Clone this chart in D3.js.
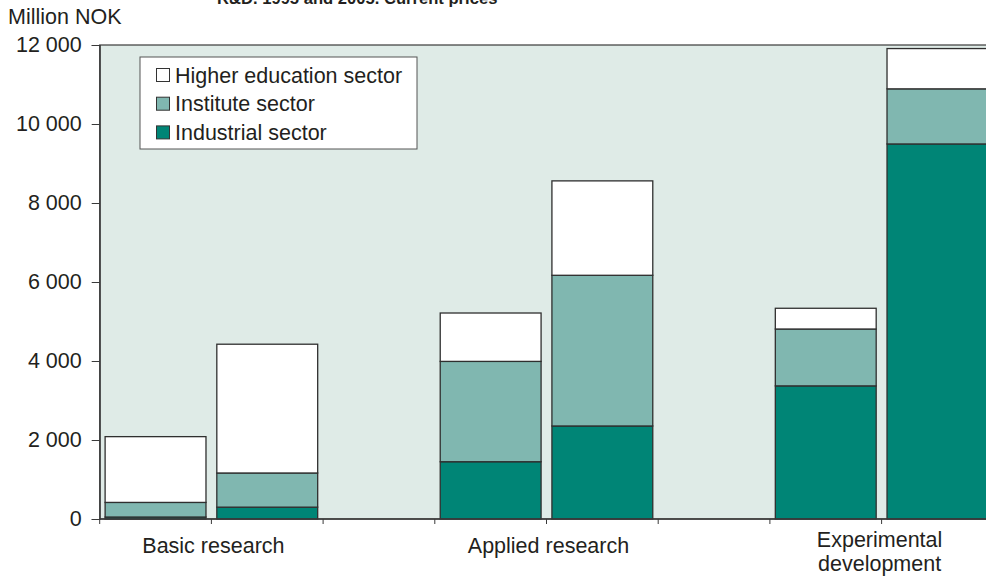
<!DOCTYPE html>
<html>
<head>
<meta charset="utf-8">
<script src="https://cdn.jsdelivr.net/npm/d3@7"></script>
<style>
  html, body { margin: 0; padding: 0; background: #ffffff; }
  svg { display: block; }
  text { font-family: "Liberation Sans", Arial, Helvetica, sans-serif; fill: #231f20; }
</style>
</head>
<body>
<svg id="chart" width="986" height="576"></svg>
<script>
// ---- Data ----
const title = "R&D. 1995 and 2005. Current prices";
const yAxisTitle = "Million NOK";
const categories = ["Basic research", "Applied research", "Experimental development"];
const years = ["1995", "2005"];
const seriesNames = ["Industrial sector", "Institute sector", "Higher education sector"];
// order of bars: Basic 1995, Basic 2005, Applied 1995, Applied 2005, Exp 1995, Exp 2005
const industrial = [50, 300, 1450, 2355, 3370, 9495];
const institute  = [370, 865, 2540, 3815, 1440, 1395];
const higherEd   = [1665, 3260, 1225, 2390, 525, 1020];
const yTicks = [0, 2000, 4000, 6000, 8000, 10000, 12000];

// ---- Layout ----
const W = 986, H = 576;
const plotLeft = 99.7, plotTop = 45, plotBottom = 519;
const FS = 21.5;
const colors = { "Industrial sector": "#008576", "Institute sector": "#80b7b0", "Higher education sector": "#ffffff" };

const svg = d3.select("#chart");

// slots: year bars per category + empty gap slot between categories
const slots = [];
categories.forEach((c, i) => {
  years.forEach(y => slots.push(c + "|" + y));
  if (i < categories.length - 1) slots.push("gap" + i);
});
const innerPad = 0.097;
const x = d3.scaleBand().domain(slots).range([plotLeft, 993.3]).paddingInner(innerPad).paddingOuter(innerPad / 2);
const step = x.step();
const slotStart = k => x(k) - step * innerPad / 2;

const y = d3.scaleLinear().domain([0, 12000]).range([plotBottom, plotTop]);

// plot background
svg.append("rect")
  .attr("x", plotLeft).attr("y", plotTop)
  .attr("width", W - plotLeft + 20).attr("height", plotBottom - plotTop)
  .attr("fill", "#dfebe7").attr("stroke", "#3a3a3a").attr("stroke-width", 1.2);

// title (top part lies above the picture, as in the reference)
svg.append("text").attr("x", 217).attr("y", 4)
  .attr("font-size", 16.6).attr("font-weight", "bold").text(title);

svg.append("text").attr("x", 8).attr("y", 24).attr("font-size", FS).text(yAxisTitle);

// stacked data
const rows = [];
categories.forEach((c, ci) => years.forEach((yr, yi) => {
  const i = ci * years.length + yi;
  rows.push({ key: c + "|" + yr, "Industrial sector": industrial[i], "Institute sector": institute[i], "Higher education sector": higherEd[i] });
}));
const stacked = d3.stack().keys(seriesNames)(rows);

svg.append("g").selectAll("g").data(stacked).join("g")
  .attr("fill", d => colors[d.key])
  .selectAll("rect").data(d => d).join("rect")
  .attr("x", d => x(d.data.key))
  .attr("width", x.bandwidth())
  .attr("y", d => y(d[1]))
  .attr("height", d => y(d[0]) - y(d[1]))
  .attr("stroke", "#2f2f2f").attr("stroke-width", 1.3);

// y axis
const fmt = d3.formatLocale({ decimal: ",", thousands: "\u00a0", grouping: [3], currency: ["", ""] }).format(",d");
const yAxis = d3.axisLeft(y).tickValues(yTicks).tickSize(8).tickPadding(10).tickFormat(d => fmt(d).replace(/\u00a0/g, " "));
const gy = svg.append("g").attr("transform", `translate(${plotLeft},0)`).call(yAxis);
gy.select(".domain").attr("stroke", "#3a3a3a").attr("stroke-width", 1.2);
gy.selectAll(".tick line").attr("stroke", "#3a3a3a");
gy.selectAll(".tick text").attr("font-size", FS).attr("fill", "#231f20")
  .style("font-family", '"Liberation Sans", Arial, sans-serif');

// x axis line + ticks at slot boundaries
const boundaries = slots.map(slotStart).concat([slotStart(slots[slots.length - 1]) + step]);
svg.append("line").attr("x1", plotLeft).attr("x2", W + 10).attr("y1", plotBottom).attr("y2", plotBottom)
  .attr("stroke", "#3a3a3a").attr("stroke-width", 1.3);
svg.append("g").selectAll("line").data(boundaries).join("line")
  .attr("x1", d => d).attr("x2", d => d).attr("y1", plotBottom).attr("y2", plotBottom + 5)
  .attr("stroke", "#3a3a3a").attr("stroke-width", 1);

// category labels
categories.forEach(c => {
  const cx = slotStart(c + "|" + years[1]);
  const words = c.length > 20 ? c.split(" ") : [c];
  const t = svg.append("text").attr("text-anchor", "middle").attr("font-size", FS);
  if (words.length === 1) {
    t.attr("x", cx + 2).attr("y", 553).text(c);
  } else {
    words.forEach((w, i) => t.append("tspan").attr("x", cx - 2).attr("y", 547 + i * 24).text(w));
  }
});

// legend
const lg = svg.append("g");
lg.append("rect").attr("x", 140).attr("y", 57).attr("width", 277).attr("height", 92)
  .attr("fill", "#ffffff").attr("stroke", "#555").attr("stroke-width", 1);
const legendOrder = ["Higher education sector", "Institute sector", "Industrial sector"];
legendOrder.forEach((s, i) => {
  const cy = 75 + i * 28.7;
  lg.append("rect").attr("x", 156.5).attr("y", cy - 6.5).attr("width", 13).attr("height", 13)
    .attr("fill", colors[s]).attr("stroke", "#333").attr("stroke-width", 1);
  lg.append("text").attr("x", 175).attr("y", cy + 7.5).attr("font-size", FS).text(s);
});
</script>
</body>
</html>
